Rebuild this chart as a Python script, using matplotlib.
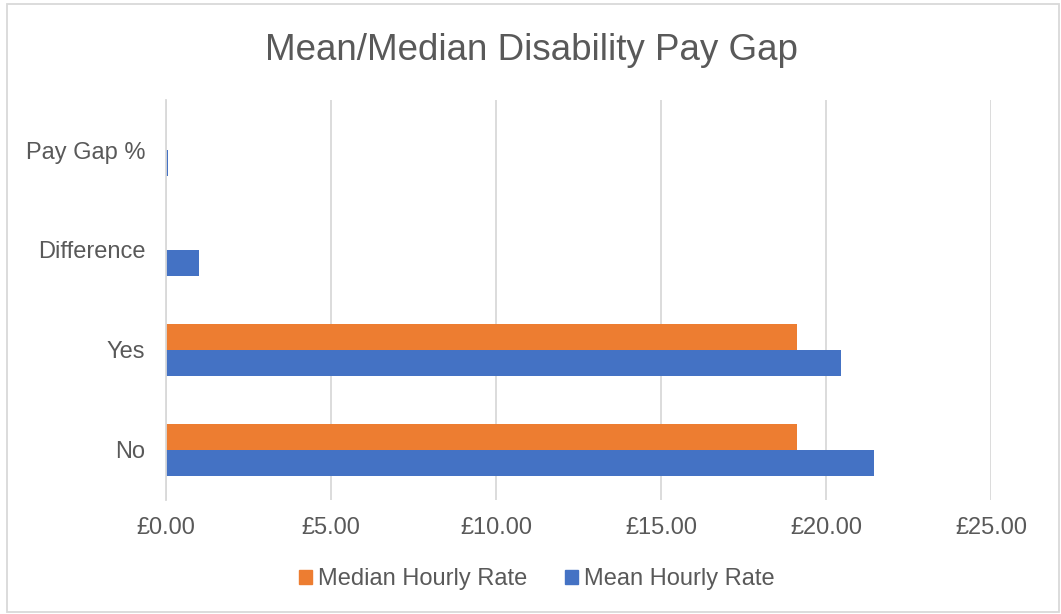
import matplotlib
matplotlib.use("Agg")
import matplotlib.pyplot as plt
from matplotlib.patches import Patch, Rectangle
import numpy as np

categories = ["No", "Yes", "Difference", "Pay Gap %"]
median_hourly = [19.11, 19.11, 0.0, 0.0]
mean_hourly = [21.45, 20.45, 1.00, 0.047]
xticks = [0, 5, 10, 15, 20, 25]

TEXT = "#595959"
GRID = "#d9d9d9"
ORANGE = "#ED7D31"
BLUE = "#4472C4"

plt.rcParams["font.family"] = ["Liberation Sans", "DejaVu Sans"]

W, H = 1061, 614
fig = plt.figure(figsize=(W / 100, H / 100), dpi=100)
ax = fig.add_axes([166 / W, 1 - 500 / H, (991 - 166) / W, 400 / H])

y = np.arange(len(categories))
h = 0.26
ax.barh(y - h / 2, mean_hourly, height=h, color=BLUE, label="Mean Hourly Rate", zorder=3)
ax.barh(y + h / 2, median_hourly, height=h, color=ORANGE, label="Median Hourly Rate", zorder=3)

ax.set_xlim(0, 25)
ax.set_ylim(-0.5, 3.5)
ax.set_xticks(xticks)
ax.set_xticklabels([f"£{v:.2f}" for v in xticks])
ax.set_yticks(y)
ax.set_yticklabels(categories)
ax.tick_params(axis="both", length=0, labelsize=17, colors=TEXT)
ax.tick_params(axis="y", pad=15)
ax.tick_params(axis="x", pad=12)
ax.grid(axis="x", color=GRID, linewidth=1.3, zorder=0)
for s in ["top", "right", "bottom"]:
    ax.spines[s].set_visible(False)
ax.spines["left"].set_color(GRID)
ax.spines["left"].set_linewidth(1.3)
ax.spines["left"].set_zorder(4)

fig.text(531 / W, 1 - 50 / H, "Mean/Median Disability Pay Gap", ha="center", va="center",
         fontsize=26.5, color=TEXT)

handles = [Patch(color=ORANGE, label="Median Hourly Rate"),
           Patch(color=BLUE, label="Mean Hourly Rate")]
fig.legend(handles=handles, loc="center", bbox_to_anchor=(537 / W, 1 - 579 / H), ncol=2,
           frameon=False, fontsize=17, labelcolor=TEXT, handlelength=0.55, handleheight=0.55,
           handletextpad=0.25, columnspacing=1.6)

fig.patches.append(Rectangle((7 / W, 2 / H), (1059 - 7) / W, (610 - 2) / H, transform=fig.transFigure,
                             fill=False, edgecolor=GRID, linewidth=1.3))

fig.savefig("out.png", dpi=100, facecolor="white")
